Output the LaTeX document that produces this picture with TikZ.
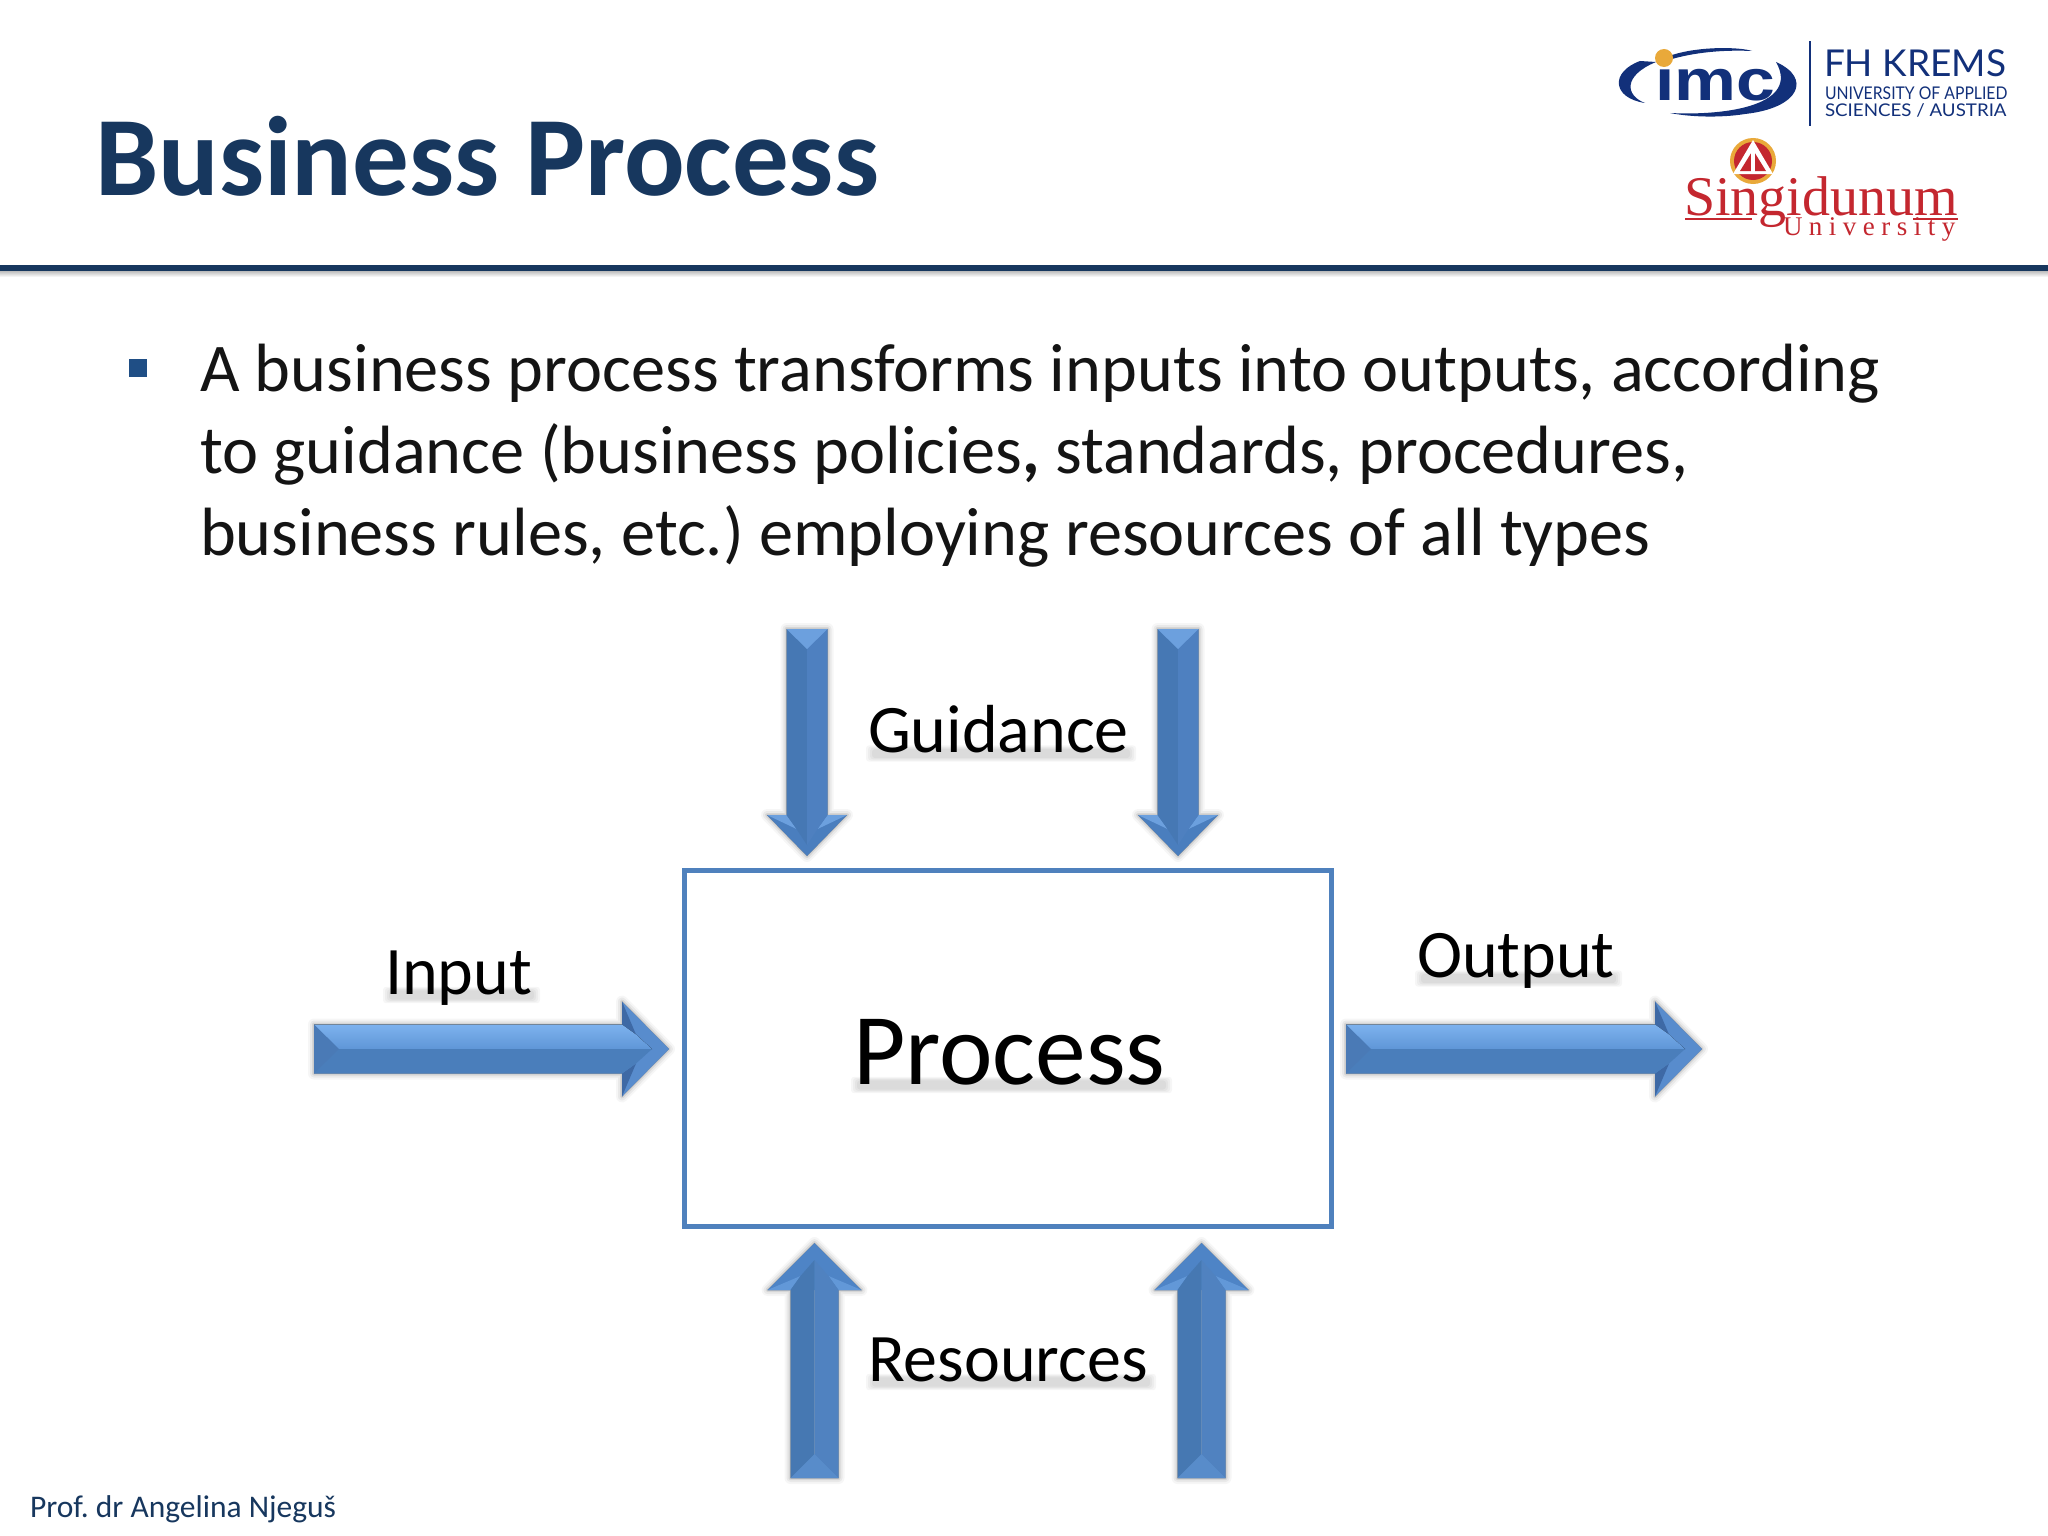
\documentclass[tikz,border=0pt]{standalone}
\usepackage{fontspec}
\setmainfont{Carlito}
\newfontfamily\logosans{Liberation Sans}
\newfontfamily\logolato{Lato}
\newfontfamily\logoserif{Liberation Serif}
\usetikzlibrary{shadings}
\frenchspacing
\definecolor{titleblue}{HTML}{17375E}
\definecolor{bulletblue}{HTML}{1F4E85}
\definecolor{boxblue}{HTML}{4F81BD}
\definecolor{logonavy}{HTML}{12307A}
\definecolor{logored}{HTML}{C4272F}
\definecolor{logogold}{HTML}{E9A93A}
\newcommand{\fsz}[1]{\fontsize{#1}{#1}\selectfont}
% soft shadow under a word: x0, x1, baseline y
\newcommand{\softstrip}[3]{%
  \foreach \gr in {7,5,3,1}{
    \fill[black,opacity=.035,rounded corners=3pt] ({#1+3-\gr},{#3-3-\gr*.6}) rectangle ({#2+3+\gr},{#3+5+\gr*.6});
  }}
% tail-centre x, y; axis vector; normal vector; L; w; h; hl; tail depth; bandA; bandB; tail; head; flap
\newcommand{\blockarrow}[9]{\begin{scope}[shift={(#1pt,-#2pt)},x={#3},y={#4},line join=miter]
  \def\aL{#5}\def\aw{#6}\def\ah{#7}\def\ahl{#8}\def\aface{#9}\blockarrowrest}
\newcommand{\blockarrowrest}[5]{%
  \pgfmathsetmacro\nb{\aL-\ahl}\pgfmathsetmacro\nc{\aL-\ahl+14}\pgfmathsetmacro\nd{\aL-\ahl+30}\pgfmathsetmacro\ne{\aw-10}
  \foreach \grow/\op in {12/.035,8/.05,4/.08,1/.12}{
    \draw[black,fill=black,opacity=\op,line width=\grow pt,line join=round]
      (0,-\aw) -- (\nb,-\aw) -- (\nb,-\ah) -- (\aL,0) -- (\nb,\ah) -- (\nb,\aw) -- (0,\aw) -- cycle;
  }
  \fill[#4] (\nb,-\ah) -- (\aL,0) -- (\nb,\ah) -- cycle;
  \fill[#5] (\nb,-\ah) -- (\nc,-\ne) -- (\nb,-\aw) -- cycle;
  \fill[#5] (\nb,\ah) -- (\nc,\ne) -- (\nb,\aw) -- cycle;
  \fill[#1] (0,-\aw) -- (\nb,-\aw) -- (\nc,-\ne) -- (\nd,0) -- (0,0) -- cycle;
  \fill[#2] (0,\aw) -- (\nb,\aw) -- (\nc,\ne) -- (\nd,0) -- (0,0) -- cycle;
  \fill[#3] (0,-\aw) -- (0,\aw) -- (\aface,0) -- cycle;
\end{scope}}
\tikzset{
  body/.style={inner sep=0pt,outer sep=0pt,text=black!92},
  label/.style={anchor=base west,inner sep=0pt,outer sep=0pt,text=black,font=\fsz{68}},
  logotxt/.style={anchor=base west,inner sep=0pt,outer sep=0pt},
}
\begin{document}
\begin{tikzpicture}[x=1pt,y=-1pt]
\useasboundingbox (0,0) rectangle (2048,1536);
\fill[white] (0,0) rectangle (2048,1536);
% title and rule
\node[logotxt,text=titleblue,font=\fsz{113}\bfseries] (title) at (95,195.5) {Business Process};
\shade[top color=black!30,bottom color=white] (0,270) rectangle (2048,277);
\fill[titleblue] (0,265) rectangle (2048,271);
% body
\fill[bulletblue] (129,359) rectangle (147,377);
\node[body,font=\fontsize{68.3}{82}\selectfont,align=left,anchor=north west] (bodytext) at (200,344) {A business process transforms inputs into outputs, according\\to guidance (business policies\textbf{,} standards, procedures,\\business rules, etc.) employing resources of all types};
% process box
\node[draw=boxblue,line width=4.5pt,fill=white,minimum width=647pt,minimum height=356pt,inner sep=0pt,outer sep=0pt,anchor=north west] (procbox) at (684.5,870.5) {};
\softstrip{855}{1162}{1084}
\node[label,font=\fsz{101.5}] (proc) at (853,1084) {Process};
% arrows: input, output
\blockarrow{314}{1049}{(1pt,0pt)}{(0pt,-1pt)}{355}{24.5}{47.5}{47}{25}{top color={rgb,255:red,125;green,178;blue,238},bottom color={rgb,255:red,95;green,150;blue,215}}{fill={rgb,255:red,74;green,126;blue,187}}{fill={rgb,255:red,74;green,122;blue,182}}{fill={rgb,255:red,88;green,140;blue,205}}{fill={rgb,255:red,62;green,105;blue,165}}
\blockarrow{1346}{1049}{(1pt,0pt)}{(0pt,-1pt)}{356}{24.5}{47.5}{47}{25}{top color={rgb,255:red,125;green,178;blue,238},bottom color={rgb,255:red,95;green,150;blue,215}}{fill={rgb,255:red,74;green,126;blue,187}}{fill={rgb,255:red,74;green,122;blue,182}}{fill={rgb,255:red,88;green,140;blue,205}}{fill={rgb,255:red,62;green,105;blue,165}}
% arrows: guidance
\blockarrow{807}{629}{(0pt,-1pt)}{(1pt,0pt)}{227}{20.5}{40}{41}{20}{fill={rgb,255:red,70;green,120;blue,180}}{fill={rgb,255:red,78;green,128;blue,192}}{fill={rgb,255:red,108;green,160;blue,222}}{fill={rgb,255:red,74;green,126;blue,190}}{fill={rgb,255:red,108;green,160;blue,222}}
\blockarrow{1178}{629}{(0pt,-1pt)}{(1pt,0pt)}{227}{20.5}{40}{41}{20}{fill={rgb,255:red,70;green,120;blue,180}}{fill={rgb,255:red,78;green,128;blue,192}}{fill={rgb,255:red,108;green,160;blue,222}}{fill={rgb,255:red,74;green,126;blue,190}}{fill={rgb,255:red,108;green,160;blue,222}}
% arrows: resources
\blockarrow{814.5}{1478}{(0pt,1pt)}{(1pt,0pt)}{235}{24}{47}{47}{24}{fill={rgb,255:red,70;green,120;blue,178}}{fill={rgb,255:red,80;green,130;blue,192}}{fill={rgb,255:red,88;green,140;blue,202}}{fill={rgb,255:red,78;green,132;blue,198}}{fill={rgb,255:red,98;green,152;blue,216}}
\blockarrow{1201.5}{1478}{(0pt,1pt)}{(1pt,0pt)}{235}{24}{47}{47}{24}{fill={rgb,255:red,70;green,120;blue,178}}{fill={rgb,255:red,80;green,130;blue,192}}{fill={rgb,255:red,88;green,140;blue,202}}{fill={rgb,255:red,78;green,132;blue,198}}{fill={rgb,255:red,98;green,152;blue,216}}
% labels
\softstrip{870}{1126}{752.5}
\node[label] (guid) at (868,752.5) {Guidance};
\softstrip{387}{530}{994}
\node[label] (inp) at (385,994) {Input};
\softstrip{1419}{1612}{977.5}
\node[label] (outp) at (1417,977.5) {Output};
\softstrip{870}{1146}{1381}
\node[label] (res) at (868,1381) {Resources};
% footer
\node[logotxt,text=titleblue,font=\fsz{31.5}] (foot) at (30,1517) {Prof. dr Angelina Njeguš};
% imc logo
\fill[logonavy] (1640,61) .. controls (1610,72) and (1612,98) .. (1645,103) .. controls (1626,96) and (1622,76) .. (1656,62) -- cycle;
\fill[logonavy] (1672,55) .. controls (1700,46) and (1740,47) .. (1752,51) .. controls (1730,50) and (1700,51) .. (1672,59) -- cycle;
\fill[logonavy] (1776,62) .. controls (1812,78) and (1800,108) .. (1745,114) .. controls (1720,118) and (1690,117) .. (1670,113) .. controls (1730,116) and (1800,104) .. (1776,62) -- cycle;
\node[logotxt,text=logonavy,font=\logosans\bfseries\fsz{58}] (imc) at (1655,101) {\scalebox{1.2}[1]{imc}};
\fill[logogold] (1664,58) circle (9);
\fill[logonavy] (1809.3,41) rectangle (1811.3,126);
\node[logotxt,text=logonavy,font=\logolato\fsz{37}] (fh) at (1824,77) {FH KREMS};
\node[logotxt,text=logonavy,font=\logolato\fsz{17.5}] (uni) at (1825,100) {\scalebox{.9}[1]{UNIVERSITY OF APPLIED}};
\node[logotxt,text=logonavy,font=\logolato\fsz{17.5}] (sci) at (1825,117) {\scalebox{1.07}[1]{SCIENCES / AUSTRIA}};
% Singidunum logo
\fill[logogold] (1753,161) circle (23);
\fill[logored] (1753,161) circle (19);
\fill[white] (1753,140) -- (1773,174) -- (1733,174) -- cycle;
\fill[logored] (1753,150) -- (1766,171) -- (1740,171) -- cycle;
\fill[white] (1751,148) rectangle (1755,172);
\node[logotxt,text=logored,font=\logoserif\fsz{56}] (sing) at (1684,215) {Singidunum};
\node[logotxt,text=logored,font=\logoserif\fsz{27}\addfontfeatures{LetterSpace=24}] (univ) at (1783,235) {University};
\fill[logored] (1685,218) rectangle (1752,220);
\fill[logored] (1913,218) rectangle (1958,220);
\end{tikzpicture}
\end{document}
